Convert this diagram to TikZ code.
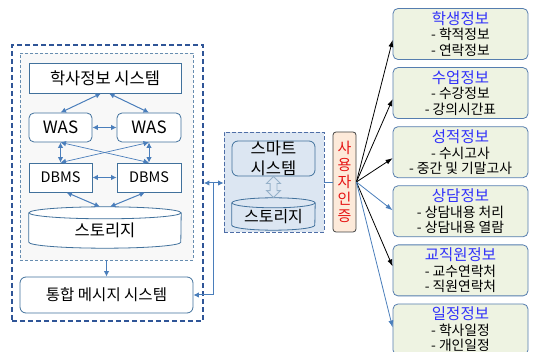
\documentclass[tikz,border=0pt]{standalone}
\usepackage{fontspec}
\setmainfont{Noto Sans CJK KR}
\usepackage{tikz}
\usetikzlibrary{positioning}
\usetikzlibrary{calc,arrows.meta,shapes.arrows}

\definecolor{BoxLine}{RGB}{65,113,156}
\definecolor{LinkBlue}{RGB}{74,126,187}
\definecolor{OuterBlue}{RGB}{47,85,151}
\definecolor{InnerFill}{RGB}{248,248,248}
\definecolor{MidFill}{RGB}{220,230,242}
\definecolor{AuthFill}{RGB}{253,234,218}
\definecolor{AuthRed}{RGB}{230,20,20}
\definecolor{InfoFill}{RGB}{238,243,226}
\definecolor{InfoLine}{RGB}{85,125,175}
\definecolor{TitleBlue}{RGB}{50,50,250}

\newcommand{\fsize}[1]{\fontsize{#1}{18}\selectfont}
\newcommand{\infotitle}[1]{\textcolor{TitleBlue}{\fontsize{15.5}{16}\selectfont #1}}
% cylinder round an (empty) node: name, x radius, y radius
\newcommand{\storage}[4]{%
	\draw[#4] ($(#1.north west)+(0,#3)$) -- ($(#1.south west)+(0,-#3)$)
		arc[start angle=180, end angle=0, x radius=#2, y radius=#3]
		-- ($(#1.north east)+(0,#3)$);
	\draw[#4] ($(#1.north)+(0,#3)$) ellipse[x radius=#2, y radius=#3];
}

\tikzset{
	box/.style={draw=BoxLine, fill=white, line width=0.8pt, inner sep=0pt},
	rbox/.style={box, rounded corners=5pt},
	link/.style={draw=LinkBlue, line width=1pt, {Latex[length=5.5pt,width=5.5pt]}-{Latex[length=5.5pt,width=5.5pt]}},
	link1/.style={draw=LinkBlue, line width=1pt, -{Latex[length=5.5pt,width=5.5pt]}},
	fan/.style={line width=0.8pt, -{Latex[length=7pt,width=5pt]}},
	info/.style={draw=InfoLine, fill=InfoFill, line width=0.8pt, rounded corners=5pt,
		minimum width=135pt, minimum height=51pt, align=center, inner sep=0pt,
		font=\fontsize{13.8}{15.5}\selectfont},
}

\begin{document}
\begin{tikzpicture}[x=1pt, y=-1pt]
	\useasboundingbox (0,0) rectangle (533,352);

	% ---------------------
	% Left: university system
	\node[draw=OuterBlue, line width=1.8pt, dash pattern=on 5pt off 3pt,
		minimum width=191pt, minimum height=276pt] (Outer) at (107.5,183) {};
	\node[draw=BoxLine!80, fill=InnerFill, line width=0.5pt, densely dashed,
		minimum width=173pt, minimum height=207pt] (Inner) at (106.5,156.5) {};

	\node[box, minimum width=152pt, minimum height=30pt, font=\fsize{16.5}] (Haksa) at (105,78) {학사정보 시스템};

	\node[rbox, minimum width=63pt, minimum height=29pt, font=\fsize{17}] (WasL) at (60.5,127.5) {WAS};
	\node[rbox, minimum width=64pt, minimum height=29pt, font=\fsize{17}] (WasR) at (149,127.5) {WAS};

	\node[box, minimum width=63pt, minimum height=29pt, font=\fsize{14.5}] (DbL) at (60.5,177.5) {DBMS};
	\node[box, minimum width=64pt, minimum height=29pt, font=\fsize{14.5}] (DbR) at (149,177.5) {DBMS};

	\node[minimum width=152pt, minimum height=41pt, inner sep=0pt] (Store) at (105,227.5) {};
	\storage{Store}{76}{6}{draw=BoxLine, fill=white, line width=0.8pt}
	\node[font=\fsize{16.5}] (StoreText) at ($(Store.center)+(0,3)$) {스토리지};

	\node[rbox, rounded corners=6pt, minimum width=173pt, minimum height=36pt, font=\fsize{15.5}] (Msg) at (106.5,295) {통합 메시지 시스템};

	% links inside
	\draw[link] ($(Haksa.south)+(-4,0)$) -- (WasL.north);
	\draw[link] ($(Haksa.south)+(4,0)$) -- (WasR.north);
	\draw[link] (WasL) -- (WasR);
	\draw[link] (WasL.south) -- (DbL.north);
	\draw[link] (WasR.south) -- (DbR.north);
	\draw[link, line width=0.7pt] (WasL.south) -- (DbR.north);
	\draw[link, line width=0.7pt] (WasR.south) -- (DbL.north);
	\draw[link] (DbL) -- (DbR);
	\draw[link] ($(DbL.south)+(6,0)$) -- ($(Store.north)+(-5,0)$);
	\draw[link] ($(DbR.south)+(-4,0)$) -- ($(Store.north)+(5,0)$);
	\draw[link1] (Inner.south) -- (Inner.south |- Msg.north);

	% ---------------------
	% Middle: smart system
	\node[draw=OuterBlue!85, fill=MidFill, line width=0.8pt, dash pattern=on 4pt off 2pt,
		minimum width=100pt, minimum height=100pt] (Mid) at (274,182) {};
	\node[draw=BoxLine, line width=0.8pt, rounded corners=6pt, minimum width=83pt, minimum height=35pt,
		align=center, inner sep=0pt, font=\fontsize{16.5}{20}\selectfont] (Smart) at (273.5,158.5) {스마트\\시스템};
	\node[minimum width=83pt, minimum height=32pt, inner sep=0pt] (MStore) at (273.5,214) {};
	\storage{MStore}{41.5}{5}{draw=BoxLine, line width=0.8pt}
	\node[font=\fsize{16}] (MStoreText) at ($(MStore.center)+(0,3)$) {스토리지};
	\node[double arrow, rotate=90, draw=BoxLine!55, fill=MidFill, line width=0.9pt,
		minimum height=21pt, inner sep=3pt, double arrow head extend=3.5pt]
		(Sync) at ($(Smart.south)!0.5!(MStore.north)$) {};

	\draw[link] (Outer.east) -- (Outer.east -| Mid.west);
	\draw[link1] ($(Outer.east)!0.5!(Outer.east -| Mid.west)$) |- (Msg.east);

	% ---------------------
	% User authentication
	\node[draw=black!75, fill=AuthFill, line width=0.8pt, rounded corners=3pt,
		minimum width=23pt, minimum height=100pt, inner sep=0pt, align=center,
		text=AuthRed, font=\fontsize{15}{17}\selectfont] (Auth) at (344.5,182) {사\\용\\자\\인\\증};
	\draw[LinkBlue, line width=0.8pt] (Mid.east) -- (Auth.west);

	% ---------------------
	% Information boxes
	\node[info] (Student) at (460.5,34) {\infotitle{학생정보}\\- 학적정보\\- 연락정보};
	\node[info, below=7.3pt of Student] (Lecture) {\infotitle{수업정보}\\- 수강정보\\- 강의시간표};
	\node[info, below=7.3pt of Lecture] (Grade) {\infotitle{성적정보}\\- 수시고사\\- 중간 및 기말고사};
	\node[info, below=7.3pt of Grade] (Counsel) {\infotitle{상담정보}\\- 상담내용 처리\\- 상담내용 열람};
	\node[info, below=7.3pt of Counsel] (Staff) {\infotitle{교직원정보}\\- 교수연락처\\- 직원연락처};
	\node[info, below=7.3pt of Staff] (Schedule) {\infotitle{일정정보}\\- 학사일정\\- 개인일정};

	\draw[fan, black] (Auth.east) -- ($(Student.west)+(0,6)$);
	\draw[fan, black] (Auth.east) -- ($(Lecture.west)+(0,6)$);
	\draw[fan, black] (Auth.east) -- ($(Grade.west)+(0,6)$);
	\draw[fan, LinkBlue] (Auth.east) -- ($(Counsel.west)+(0,-1)$);
	\draw[fan, black] (Auth.east) -- ($(Staff.west)+(0,-4)$);
	\draw[fan, LinkBlue] (Auth.east) -- ($(Schedule.west)+(0,-2)$);

\end{tikzpicture}
\end{document}
